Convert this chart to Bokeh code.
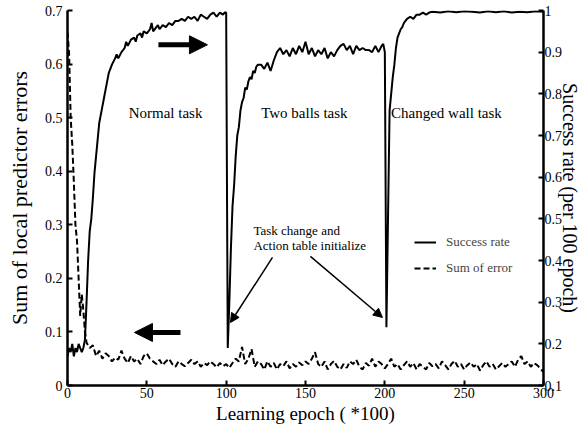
from bokeh.plotting import figure
from bokeh.models import (Range1d, LinearAxis, FixedTicker, Label, Arrow,
                          NormalHead, Legend, LegendItem)
from bokeh.embed import file_html
from bokeh.resources import INLINE

FONT = "Liberation Serif"

# ---- data ----
x_ticks = [0, 50, 100, 150, 200, 250, 300]
left_ticks = [0, 0.1, 0.2, 0.3, 0.4, 0.5, 0.6, 0.7]
right_ticks = [0.1, 0.2, 0.3, 0.4, 0.5, 0.6, 0.7, 0.8, 0.9, 1.0]

# success rate (right axis)
sr_epoch = [0, 1, 2, 3, 4, 5, 6, 7, 8, 9, 10,
            11, 12, 13, 14, 15, 16, 17, 18, 19, 20,
            21, 22, 23, 24, 25, 26, 27, 28, 30, 31, 32, 34, 36, 37, 38,
            40, 42, 43, 44, 46, 47, 48, 50, 52, 53, 54, 56, 57, 58,
            60, 62, 64, 66, 68, 70, 72, 74, 76, 78, 80, 82, 84, 86, 88,
            90, 92, 94, 96, 98, 99, 100,
            101, 102, 103, 104, 105, 106, 107, 108, 109, 110,
            111, 112, 113, 114, 115, 116, 117, 118, 119, 120,
            122, 124, 126, 128, 130, 132, 134, 136, 138, 140,
            142, 144, 146, 148, 150, 152, 154, 156, 158, 160,
            162, 164, 166, 168, 170, 172, 174, 176, 178, 180,
            182, 184, 186, 188, 190, 192, 194, 196, 198, 199, 200,
            201, 202, 203, 204, 205, 206, 207, 208, 209, 210,
            211, 212, 213, 214, 216, 218, 220, 222, 224, 226, 228,
            230, 235, 240, 245, 250, 255, 260, 265, 270, 275,
            280, 285, 290, 295, 300]
sr_value = [0.17, 0.19, 0.18, 0.20, 0.17, 0.19, 0.18, 0.20, 0.19, 0.18, 0.19,
            0.21, 0.30, 0.40, 0.47, 0.50, 0.55, 0.61, 0.65, 0.69, 0.73,
            0.75, 0.77, 0.79, 0.81, 0.83, 0.85, 0.86, 0.87, 0.885, 0.895, 0.885, 0.90, 0.91, 0.925, 0.915,
            0.93, 0.935, 0.925, 0.94, 0.945, 0.935, 0.95, 0.945, 0.955, 0.97, 0.95, 0.96, 0.965, 0.955,
            0.965, 0.96, 0.97, 0.965, 0.975, 0.975, 0.98, 0.975, 0.985, 0.98, 0.985, 0.975, 0.99, 0.985, 0.98,
            0.99, 0.995, 0.985, 0.995, 0.99, 0.995, 0.995,
            0.19, 0.30, 0.43, 0.53, 0.58, 0.65, 0.70, 0.72, 0.76, 0.78,
            0.79, 0.815, 0.81, 0.83, 0.84, 0.835, 0.855, 0.85, 0.865, 0.87,
            0.87, 0.86, 0.875, 0.855, 0.88, 0.90, 0.91, 0.895, 0.905, 0.89,
            0.91, 0.895, 0.915, 0.90, 0.925, 0.895, 0.91, 0.89, 0.905, 0.895,
            0.91, 0.885, 0.90, 0.89, 0.905, 0.915, 0.92, 0.905, 0.915, 0.895,
            0.915, 0.905, 0.91, 0.905, 0.905, 0.90, 0.915, 0.90, 0.915, 0.92, 0.90,
            0.24, 0.50, 0.76, 0.80, 0.84, 0.87, 0.91, 0.935, 0.945, 0.955,
            0.96, 0.97, 0.975, 0.98, 0.985, 0.98, 0.99, 0.99, 0.995, 0.99, 0.995,
            0.997, 0.995, 0.998, 0.996, 0.998, 0.997, 0.995, 0.998, 0.996, 0.998,
            0.995, 0.997, 0.996, 0.998, 0.997]

# sum of local predictor errors (left axis)
err_epoch = [0, 1, 2, 3, 4, 5, 6, 7, 8, 9, 10, 11] + list(range(12, 301, 2))
err_value = [0.66, 0.62, 0.50, 0.45, 0.38, 0.30, 0.27, 0.20, 0.13, 0.17, 0.14, 0.10,
             0.08, 0.07, 0.075, 0.055, 0.065, 0.05, 0.06, 0.055, 0.045, 0.052,
             0.048, 0.065, 0.05, 0.042, 0.055, 0.045, 0.05, 0.04, 0.055, 0.06,
             0.05, 0.045, 0.04, 0.048, 0.038, 0.045, 0.05, 0.04, 0.035, 0.045,
             0.04, 0.036, 0.042, 0.048, 0.04, 0.045, 0.035, 0.042, 0.038, 0.045,
             0.04, 0.034, 0.042, 0.036, 0.04, 0.033, 0.042, 0.05, 0.045, 0.072,
             0.04, 0.05, 0.068, 0.035, 0.045,
             0.04, 0.03, 0.045, 0.035, 0.042, 0.03, 0.04, 0.036, 0.045, 0.032,
             0.04, 0.035, 0.043, 0.038, 0.045, 0.04, 0.05, 0.062, 0.04, 0.035,
             0.045, 0.03, 0.04, 0.046, 0.035, 0.03, 0.04, 0.033, 0.045, 0.04,
             0.048, 0.035, 0.03, 0.042, 0.037, 0.05, 0.035, 0.045, 0.04, 0.032,
             0.04, 0.05, 0.035, 0.04, 0.03, 0.038, 0.045, 0.035, 0.042, 0.03,
             0.04, 0.035, 0.03, 0.042, 0.036, 0.04, 0.032, 0.045, 0.038, 0.03,
             0.04, 0.046, 0.035, 0.04, 0.03, 0.038, 0.043, 0.035, 0.04, 0.028,
             0.038, 0.045, 0.035, 0.04, 0.03, 0.036, 0.042, 0.035, 0.04, 0.045,
             0.035, 0.048, 0.055, 0.04, 0.045, 0.035, 0.042, 0.038, 0.032, 0.025]

p = figure(width=586, height=433, output_backend="svg", toolbar_location=None,
           x_range=Range1d(0, 300), y_range=Range1d(0, 0.7),
           min_border_left=67, min_border_right=43, min_border_top=10,
           min_border_bottom=48)
p.extra_y_ranges = {"rate": Range1d(0.1, 1.0)}
p.outline_line_color = None
p.grid.visible = False
p.background_fill_color = "white"
p.border_fill_color = "white"

r_rate = p.line(sr_epoch, sr_value, y_range_name="rate", line_color="black",
                line_width=2)
r_err = p.line(err_epoch, err_value, line_color="black", line_width=2,
               line_dash="6 3")

right = LinearAxis(y_range_name="rate")
p.add_layout(right, "right")

xa = p.xaxis[0]
ya = p.yaxis[0]
for ax in (xa, ya, right):
    ax.axis_line_width = 2.5
    ax.axis_line_color = "black"
    ax.major_tick_in = 5
    ax.major_tick_out = 0
    ax.major_tick_line_width = 2
    ax.minor_tick_line_color = None
    ax.major_label_text_font = FONT
    ax.major_label_text_font_size = "14px"
    ax.major_label_text_color = "black"
    ax.axis_label_text_font = FONT
    ax.axis_label_text_font_style = "normal"
    ax.axis_label_text_color = "black"

xa.ticker = FixedTicker(ticks=x_ticks)
xa.axis_label = "Learning epoch ( *100)"
xa.axis_label_text_font_size = "19px"
xa.major_label_standoff = 2
xa.axis_label_standoff = 2

ya.ticker = FixedTicker(ticks=left_ticks)
ya.major_label_overrides = {0: "0"}
ya.axis_label = "Sum of local predictor errors"
ya.axis_label_text_font_size = "22px"
ya.major_label_standoff = 5
ya.axis_label_standoff = 10

right.ticker = FixedTicker(ticks=right_ticks)
right.major_label_overrides = {1.0: "1"}
right.axis_label = "Success rate (per 100 epoch)"
right.axis_label_text_font_size = "20px"
right.major_label_standoff = 1
right.axis_label_standoff = -6

# legend
legend = Legend(items=[LegendItem(label="Success rate", renderers=[r_rate]),
                       LegendItem(label="Sum of error", renderers=[r_err])],
                location=(347, 107), padding=0, margin=0, spacing=6,
                glyph_width=22, glyph_height=20, label_standoff=10,
                label_text_font=FONT, label_text_font_size="13px",
                background_fill_alpha=0, border_line_color=None)
p.add_layout(legend)

# task labels
for x, t in [(61.8, "Normal task"), (149.3, "Two balls task"),
             (238.8, "Changed wall task")]:
    p.add_layout(Label(x=x, y=0.508, text=t, text_align="center",
                       text_baseline="middle", text_font=FONT,
                       text_font_size="15px", text_color="black"))

p.add_layout(Label(x=117.2, y=0.289, text="Task change and", text_align="left",
                   text_baseline="middle", text_font=FONT,
                   text_font_size="13px", text_color="black"))
p.add_layout(Label(x=117.2, y=0.261, text="Action table initialize",
                   text_align="left", text_baseline="middle", text_font=FONT,
                   text_font_size="13px", text_color="black"))

# thick arrows
p.add_layout(Arrow(x_start=57.3, y_start=0.636, x_end=88.2, y_end=0.636,
                   line_width=5, line_color="black",
                   end=NormalHead(size=18, fill_color="black",
                                  line_color="black")))
p.add_layout(Arrow(x_start=71.2, y_start=0.099, x_end=42.2, y_end=0.099,
                   line_width=5, line_color="black",
                   end=NormalHead(size=18, fill_color="black",
                                  line_color="black")))
# thin arrows
p.add_layout(Arrow(x_start=129.2, y_start=0.239, x_end=102.7, y_end=0.1176,
                   line_width=1.5, line_color="black",
                   end=NormalHead(size=9, fill_color="black",
                                  line_color="black")))
p.add_layout(Arrow(x_start=153.1, y_start=0.241, x_end=198.5, y_end=0.127,
                   line_width=1.5, line_color="black",
                   end=NormalHead(size=9, fill_color="black",
                                  line_color="black")))

open("out.html", "w").write(file_html(p, INLINE))
